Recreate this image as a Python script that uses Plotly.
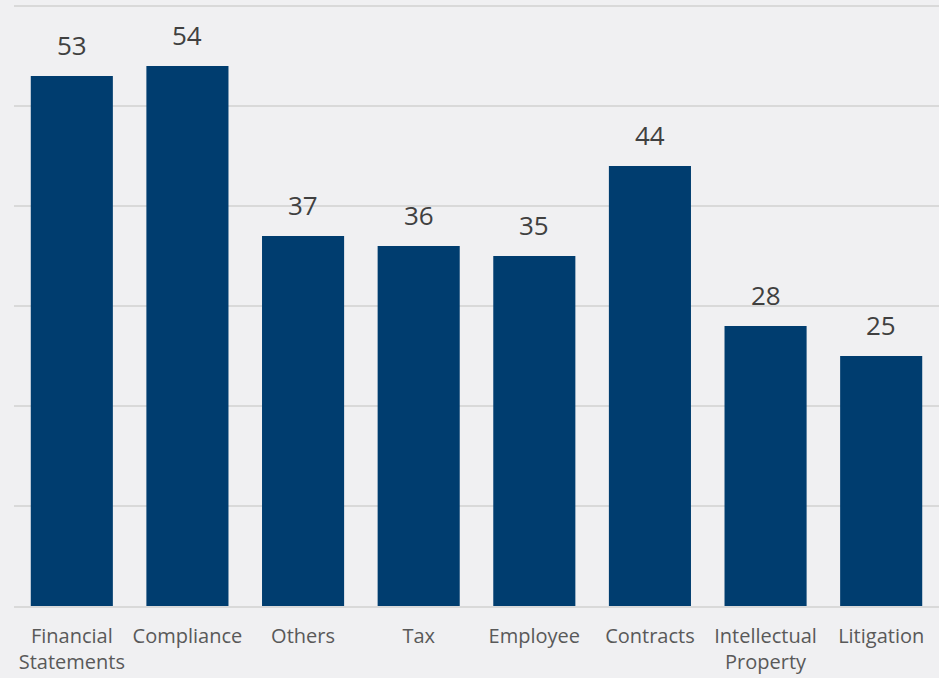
import plotly.graph_objects as go

categories = ["Financial<br>Statements", "Compliance", "Others", "Tax", "Employee",
              "Contracts", "Intellectual<br>Property", "Litigation"]
values = [53, 54, 37, 36, 35, 44, 28, 25]

fig = go.Figure(go.Bar(
    x=categories, y=values,
    marker=dict(color="#003d6f", line=dict(width=0)),
    cliponaxis=False,
))

for c, v in zip(categories, values):
    fig.add_annotation(x=c, y=v, text=str(v), showarrow=False, yanchor="bottom",
                       yshift=11, font=dict(family="Open Sans", size=26, color="#404040"))

fig.update_layout(
    width=939, height=678,
    paper_bgcolor="#f0f0f2", plot_bgcolor="#f0f0f2",
    margin=dict(l=14, r=0, t=0, b=72),
    bargap=0.29,
    showlegend=False,
    font=dict(family="Open Sans", color="#595959"),
    xaxis=dict(showgrid=False, showline=True, linecolor="#d9d9d9", linewidth=2,
               tickfont=dict(family="Open Sans", size=20, color="#595959"),
               ticks="", ticklabelstandoff=11),
    yaxis=dict(range=[0, 60.6], tickvals=[10, 20, 30, 40, 50, 60], showticklabels=False,
               showgrid=True, gridcolor="#d9d9d9", gridwidth=2, zeroline=False,
               fixedrange=True),
)

fig.write_html("out.html", config={"displayModeBar": False},
               post_script="document.body.style.margin='0';")
